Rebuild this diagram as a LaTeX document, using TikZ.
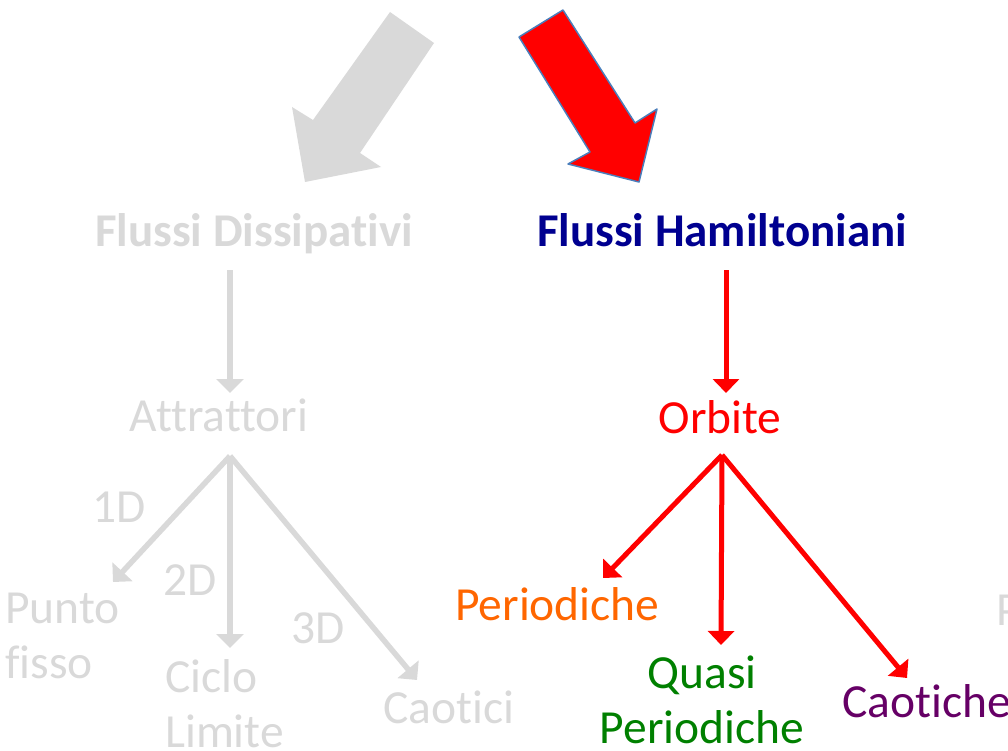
\documentclass[tikz,border=0pt]{standalone}
\usepackage{fontspec}
\setmainfont{Carlito}[Ligatures=NoCommon]
\usetikzlibrary{arrows.meta}
\definecolor{lgray}{HTML}{D9D9D9}
\definecolor{navyt}{HTML}{000090}
\definecolor{orangep}{HTML}{FF6600}
\definecolor{greenq}{HTML}{008000}
\definecolor{purplec}{HTML}{660066}
\definecolor{edgeblue}{HTML}{4A7EBB}
\begin{document}
\begin{tikzpicture}[x=1pt,y=-1pt,
  txt/.style={inner sep=0pt, font=\fontsize{47.5}{55}\selectfont},
  ttl/.style={inner sep=0pt, font=\fontsize{47}{55}\selectfont\bfseries},
  garr/.style={draw=lgray, line width=5.5pt, -{Triangle[width=27pt,length=14pt]}},
  rarr/.style={draw=red, line width=5pt, -{Triangle[width=26pt,length=14pt]}},
  ltxt/.style={txt, align=left, anchor=base west},
]
\useasboundingbox (0,0) rectangle (1008,751);
% big block arrows
\fill[lgray] (390,12) -- (434,43) -- (360,153) -- (381,167) -- (305,182) -- (292,107) -- (313,120) -- cycle;
\filldraw[fill=red, draw=edgeblue, line width=1.5pt, line join=round] (563,10) -- (519,37) -- (590,152) -- (568,164) -- (639,182) -- (657,109) -- (635,123) -- cycle;
% titles
\node[ttl, text=lgray, anchor=base] (fd) at (254,247) {Flussi Dissipativi};
\node[ttl, text=navyt, anchor=base] (fh) at (722,247) {Flussi Hamiltoniani};
% second level
\node[txt, text=lgray, anchor=base] (att) at (219,431) {Attrattori};
\node[txt, text=red, anchor=base] (orb) at (720,433) {Orbite};
% left leaves
\node[ltxt, text=lgray] (pf) at (5,678) {Punto\\fisso};
\node[ltxt, text=lgray] (cl) at (165,747) {Ciclo\\Limite};
\node[txt, text=lgray, anchor=base west] (cao) at (383,723) {Caotici};
\node[txt, text=lgray] (d1) at (119,507) {1D};
\node[txt, text=lgray] (d2) at (190,580) {2D};
\node[txt, text=lgray] (d3) at (318,628) {3D};
% right leaves
\node[txt, text=orangep, anchor=base west] (per) at (455,620) {Periodiche};
\node[txt, text=greenq, align=center, anchor=base] (qp) at (702,743) {Quasi\\Periodiche};
\node[txt, text=purplec, anchor=base west] (cah) at (842,717) {Caotiche};
\node[txt, text=lgray, anchor=base west] (pcut) at (996,625) {P};
% connector end points
\coordinate (fdS) at (230,270);
\coordinate (attN) at (230,393);
\coordinate (attS) at (230,456);
\coordinate (pfT) at (113,582);
\coordinate (clT) at (230,648);
\coordinate (caoT) at (417,680);
\coordinate (fhS) at (726,270);
\coordinate (orbN) at (726,393);
\coordinate (orbS) at (722,455);
\coordinate (perT) at (603,578);
\coordinate (qpT) at (721,645);
\coordinate (cahT) at (907,678);
% connectors
\draw[garr] (fdS) -- (attN);
\draw[garr] (attS) -- (pfT);
\draw[garr] (attS) -- (clT);
\draw[garr] (attS) -- (caoT);
\draw[rarr] (fhS) -- (orbN);
\draw[rarr] (orbS) -- (perT);
\draw[rarr] (orbS) -- (qpT);
\draw[rarr] (orbS) -- (cahT);
\end{tikzpicture}
\end{document}
